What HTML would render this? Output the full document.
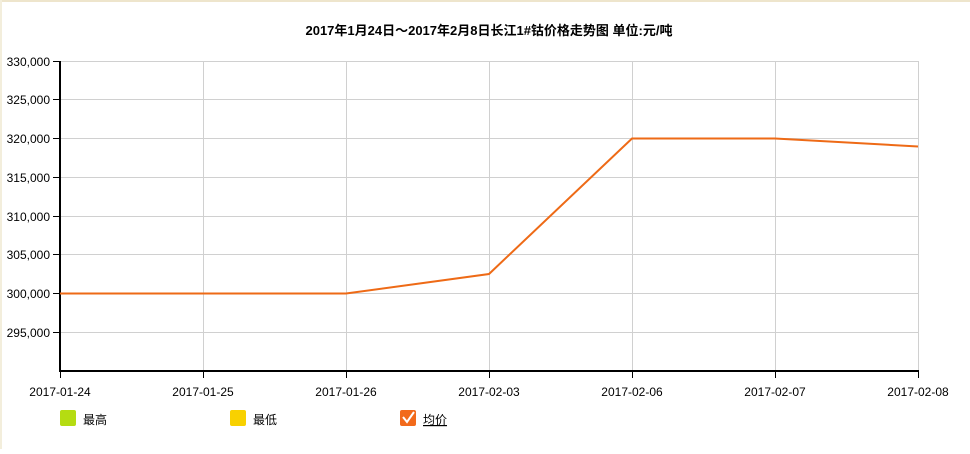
<!DOCTYPE html>
<html><head><meta charset="utf-8"><style>
html,body{margin:0;padding:0;background:#fff;}
body{width:970px;height:449px;overflow:hidden;}
svg text{font-family:"Liberation Sans","Noto Sans CJK SC",sans-serif;}
</style></head><body>
<svg width="970" height="449" xmlns="http://www.w3.org/2000/svg">
<rect x="0" y="0" width="970" height="449" fill="#fff"/>
<rect x="0" y="0" width="970" height="2" fill="#eee5cc"/>
<rect x="0" y="0" width="2" height="449" fill="#f3eedc"/>
<text x="489" y="35" font-size="13" font-weight="bold" text-anchor="middle" fill="#000">2017年1月24日～2017年2月8日长江1#钴价格走势图 单位:元/吨</text>
<g stroke="#d0d0d0" stroke-width="1">
<line x1="60" y1="61.5" x2="918" y2="61.5"/>
<line x1="60" y1="99.5" x2="918" y2="99.5"/>
<line x1="60" y1="138.5" x2="918" y2="138.5"/>
<line x1="60" y1="177.5" x2="918" y2="177.5"/>
<line x1="60" y1="216.5" x2="918" y2="216.5"/>
<line x1="60" y1="254.5" x2="918" y2="254.5"/>
<line x1="60" y1="293.5" x2="918" y2="293.5"/>
<line x1="60" y1="332.5" x2="918" y2="332.5"/>
<line x1="203.5" y1="61" x2="203.5" y2="371"/>
<line x1="346.5" y1="61" x2="346.5" y2="371"/>
<line x1="489.5" y1="61" x2="489.5" y2="371"/>
<line x1="632.5" y1="61" x2="632.5" y2="371"/>
<line x1="775.5" y1="61" x2="775.5" y2="371"/>
<line x1="918.5" y1="61" x2="918.5" y2="371"/>
</g>
<g stroke="#000" stroke-width="1">
<line x1="53" y1="61.5" x2="60" y2="61.5"/>
<line x1="53" y1="99.5" x2="60" y2="99.5"/>
<line x1="53" y1="138.5" x2="60" y2="138.5"/>
<line x1="53" y1="177.5" x2="60" y2="177.5"/>
<line x1="53" y1="216.5" x2="60" y2="216.5"/>
<line x1="53" y1="254.5" x2="60" y2="254.5"/>
<line x1="53" y1="293.5" x2="60" y2="293.5"/>
<line x1="53" y1="332.5" x2="60" y2="332.5"/>
<line x1="60.5" y1="371" x2="60.5" y2="378"/>
<line x1="203.5" y1="371" x2="203.5" y2="378"/>
<line x1="346.5" y1="371" x2="346.5" y2="378"/>
<line x1="489.5" y1="371" x2="489.5" y2="378"/>
<line x1="632.5" y1="371" x2="632.5" y2="378"/>
<line x1="775.5" y1="371" x2="775.5" y2="378"/>
<line x1="918.5" y1="371" x2="918.5" y2="378"/>
</g>
<line x1="60" y1="61" x2="60" y2="372" stroke="#000" stroke-width="2"/>
<line x1="59" y1="371" x2="919" y2="371" stroke="#000" stroke-width="2"/>
<g font-size="12" fill="#000" text-anchor="end">
<text x="50" y="66">330,000</text>
<text x="50" y="104">325,000</text>
<text x="50" y="143">320,000</text>
<text x="50" y="182">315,000</text>
<text x="50" y="221">310,000</text>
<text x="50" y="259">305,000</text>
<text x="50" y="298">300,000</text>
<text x="50" y="337">295,000</text>
</g>
<g font-size="12" fill="#000" text-anchor="middle">
<text x="60" y="396">2017-01-24</text>
<text x="203" y="396">2017-01-25</text>
<text x="346" y="396">2017-01-26</text>
<text x="489" y="396">2017-02-03</text>
<text x="632" y="396">2017-02-06</text>
<text x="775" y="396">2017-02-07</text>
<text x="918" y="396">2017-02-08</text>
</g>
<polyline points="60,293.5 203,293.5 346,293.5 489,274 632,138.5 775,138.5 918,146.5" fill="none" stroke="#ee6a16" stroke-width="2"/>
<rect x="60" y="410" width="16" height="16" rx="2" fill="#b5dc12"/>
<text x="83" y="424" font-size="12" fill="#000">最高</text>
<rect x="230" y="410" width="16" height="16" rx="2" fill="#f8d100"/>
<text x="253" y="424" font-size="12" fill="#000">最低</text>
<rect x="400" y="410" width="16" height="16" rx="2" fill="#f26a1b"/>
<polyline points="403,417 407,422 414,412" fill="none" stroke="#fff" stroke-width="2"/>
<text x="423" y="424" font-size="12" fill="#000" text-decoration="underline">均价</text>
</svg>
</body></html>
